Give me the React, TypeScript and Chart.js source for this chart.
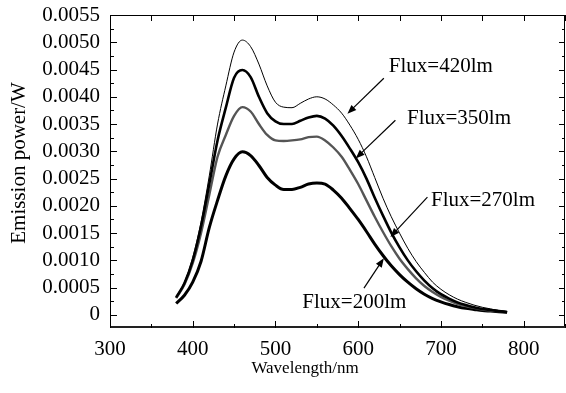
import React, { useEffect, useRef } from "react";
import { Chart, registerables } from "chart.js";
Chart.register(...registerables);

const wavelengths = [380, 390, 400, 410, 420, 430, 440, 450, 460, 470, 480, 490, 500, 510, 520, 530, 540, 550, 560, 570, 580, 590, 600, 610, 620, 630, 640, 650, 660, 670, 680, 690, 700, 710, 720, 730, 740, 750, 760, 770, 780];

const flux420 = [0.00032, 0.0006, 0.00105, 0.0017, 0.00255, 0.0035, 0.0042, 0.00482, 0.00504, 0.00492, 0.0046, 0.0042, 0.0039, 0.00381, 0.0038, 0.00388, 0.00396, 0.004, 0.00396, 0.00385, 0.0037, 0.00348, 0.00322, 0.0029, 0.00252, 0.00214, 0.0018, 0.0015, 0.00122, 0.00098, 0.00078, 0.0006, 0.00047, 0.00037, 0.00029, 0.00023, 0.00018, 0.00014, 0.00011, 0.00008, 0.00006];

const flux350 = [0.00032, 0.00058, 0.001, 0.00162, 0.0024, 0.0032, 0.0038, 0.00435, 0.00449, 0.00436, 0.004, 0.0037, 0.00355, 0.0035, 0.0035, 0.00356, 0.00362, 0.00365, 0.0036, 0.00347, 0.00328, 0.00305, 0.0028, 0.0025, 0.00215, 0.00182, 0.00151, 0.00124, 0.001, 0.0008, 0.00063, 0.00049, 0.00038, 0.0003, 0.00023, 0.00018, 0.00014, 0.00011, 0.00009, 0.00007, 0.00005];

const flux270 = [0.00031, 0.00056, 0.00095, 0.0015, 0.0022, 0.0029, 0.0033, 0.00365, 0.00381, 0.00373, 0.0035, 0.0033, 0.0032, 0.00319, 0.0032, 0.00322, 0.00326, 0.00327, 0.0032, 0.00307, 0.0029, 0.00266, 0.0024, 0.0021, 0.0018, 0.00152, 0.00126, 0.00103, 0.00084, 0.00067, 0.00053, 0.00042, 0.00033, 0.00026, 0.0002, 0.00016, 0.00013, 0.0001, 0.00008, 0.00007, 0.00005];

const flux200 = [0.00021, 0.00036, 0.0006, 0.00098, 0.0016, 0.0021, 0.00255, 0.00286, 0.00299, 0.00292, 0.00274, 0.00252, 0.00238, 0.0023, 0.0023, 0.00234, 0.0024, 0.00242, 0.0024, 0.00229, 0.00214, 0.00195, 0.00175, 0.00153, 0.0013, 0.00109, 0.0009, 0.00074, 0.0006, 0.00048, 0.00038, 0.0003, 0.00024, 0.00019, 0.00015, 0.00012, 0.0001, 0.00008, 0.00007, 0.00006, 0.00005];

const xTickValues = [300, 400, 500, 600, 700, 800];
const xMinorStep = 50;
const yTickValues = [0, 0.0005, 0.001, 0.0015, 0.002, 0.0025, 0.003, 0.0035, 0.004, 0.0045, 0.005, 0.0055];
const yMinorStep = 0.00025;

const annotationLabels = ["Flux=420lm", "Flux=350lm", "Flux=270lm", "Flux=200lm"];
const labelAtX = [637, 659, 688, 532.5];
const labelAtY = [0.00446, 0.00351, 0.002, 0.00012];
const arrowFromX = [631, 645, 683.7, 607];
const arrowFromY = [0.00434, 0.00357, 0.00216, 0.00049];
const arrowToX = [587, 597, 639, 631];
const arrowToY = [0.00369, 0.00287, 0.00143, 0.00104];

const FONT = "'Liberation Serif', 'Times New Roman', serif";

const toPoints = (vals: number[]) => vals.map((v, i) => ({ x: wavelengths[i], y: v }));

const overlay = {
  id: "overlay",
  afterDraw(chart: any) {
    const { ctx, chartArea: a, scales } = chart;
    const x = scales.x;
    const y = scales.y;
    const L = Math.round(a.left);
    const T = Math.round(a.top);
    const R = Math.round(a.right);
    const B = Math.round(a.bottom);
    ctx.save();
    ctx.fillStyle = "#000";
    // frame
    ctx.fillRect(L, T, R - L, 1);
    ctx.fillRect(L, T, 1, B - T);
    ctx.fillRect(R - 1, T, 1, B - T);
    ctx.fillStyle = "#222";
    ctx.fillRect(L, B - 2, R - L, 2);
    ctx.fillStyle = "#000";
    // x ticks
    for (const v of xTickValues) {
      for (const m of [v, v + xMinorStep]) {
        if (m > x.max) continue;
        const px = Math.round(x.getPixelForValue(m));
        const major = m === v;
        ctx.fillRect(px, B - (major ? 7 : 4), 1, major ? 7 : 4);
        ctx.fillRect(px, T, 1, 6);
      }
    }
    // y ticks
    for (const v of yTickValues) {
      for (const m of [v, v + yMinorStep]) {
        if (m > y.max + 1e-9) continue;
        const py = Math.round(y.getPixelForValue(m));
        const major = m === v;
        ctx.fillRect(L, py, major ? 7 : 4, 1);
        ctx.fillRect(R - (major ? 6 : 3), py, major ? 6 : 3, 1);
      }
    }
    // annotations
    ctx.strokeStyle = "#000";
    ctx.font = `21px ${FONT}`;
    ctx.textAlign = "left";
    ctx.textBaseline = "alphabetic";
    annotationLabels.forEach((t, i) => {
      ctx.fillText(t, x.getPixelForValue(labelAtX[i]), y.getPixelForValue(labelAtY[i]));
      const x0 = x.getPixelForValue(arrowFromX[i]);
      const y0 = y.getPixelForValue(arrowFromY[i]);
      const x1 = x.getPixelForValue(arrowToX[i]);
      const y1 = y.getPixelForValue(arrowToY[i]);
      const ang = Math.atan2(y1 - y0, x1 - x0);
      const hl = 9;
      const hw = 3.5;
      ctx.lineWidth = 1.2;
      ctx.beginPath();
      ctx.moveTo(x0, y0);
      ctx.lineTo(x1 - Math.cos(ang) * hl * 0.8, y1 - Math.sin(ang) * hl * 0.8);
      ctx.stroke();
      ctx.beginPath();
      ctx.moveTo(x1, y1);
      ctx.lineTo(x1 - Math.cos(ang) * hl - Math.sin(ang) * hw, y1 - Math.sin(ang) * hl + Math.cos(ang) * hw);
      ctx.lineTo(x1 - Math.cos(ang) * hl + Math.sin(ang) * hw, y1 - Math.sin(ang) * hl - Math.cos(ang) * hw);
      ctx.closePath();
      ctx.fill();
    });
    // axis titles
    ctx.font = `17px ${FONT}`;
    ctx.textAlign = "center";
    ctx.fillText("Wavelength/nm", 305, 373);
    ctx.save();
    ctx.translate(24.5, 163);
    ctx.rotate(-Math.PI / 2);
    ctx.font = `21px ${FONT}`;
    ctx.fillText("Emission power/W", 0, 0);
    ctx.restore();
    ctx.restore();
  },
};

export default function App() {
  const ref = useRef<HTMLCanvasElement>(null);
  useEffect(() => {
    const chart = new Chart(ref.current as HTMLCanvasElement, {
      type: "line",
      data: {
        datasets: [
          { label: "Flux=420lm", data: toPoints(flux420), borderColor: "#000", borderWidth: 1, pointRadius: 0, cubicInterpolationMode: "monotone" },
          { label: "Flux=350lm", data: toPoints(flux350), borderColor: "#000", borderWidth: 2.6, pointRadius: 0, cubicInterpolationMode: "monotone" },
          { label: "Flux=270lm", data: toPoints(flux270), borderColor: "#555", borderWidth: 2.4, pointRadius: 0, cubicInterpolationMode: "monotone" },
          { label: "Flux=200lm", data: toPoints(flux200), borderColor: "#000", borderWidth: 3, pointRadius: 0, cubicInterpolationMode: "monotone" },
        ],
      },
      options: {
        animation: false,
        responsive: false,
        devicePixelRatio: 1,
        layout: { padding: { top: 15, right: 1, left: 0, bottom: 0 } },
        plugins: { legend: { display: false }, tooltip: { enabled: false } },
        scales: {
          x: {
            type: "linear",
            min: 300,
            max: 850,
            grid: { display: false },
            border: { display: false },
            afterBuildTicks: (s: any) => { s.ticks = xTickValues.map((v) => ({ value: v })); },
            afterFit: (s: any) => { s.height = 65; },
            ticks: { color: "#000", font: { family: FONT, size: 21 }, padding: 1, maxRotation: 0, autoSkip: false, callback: (v: any) => String(v) },
          },
          y: {
            type: "linear",
            min: -0.00024,
            max: 0.0055,
            grid: { display: false },
            border: { display: false },
            afterBuildTicks: (s: any) => { s.ticks = yTickValues.map((v) => ({ value: v })); },
            afterFit: (s: any) => { s.width = 110; },
            ticks: { color: "#000", font: { family: FONT, size: 21 }, padding: 2, autoSkip: false, callback: (v: any) => (v === 0 ? "0" : Number(v).toFixed(4)) },
          },
        },
      },
      plugins: [overlay],
    } as any);
    return () => chart.destroy();
  }, []);
  return (
    <div style={{ position: "absolute", left: 0, top: 0, width: 566, height: 393, background: "#fff" }}>
      <canvas ref={ref} width={566} height={393} style={{ width: 566, height: 393, display: "block" }} />
    </div>
  );
}
